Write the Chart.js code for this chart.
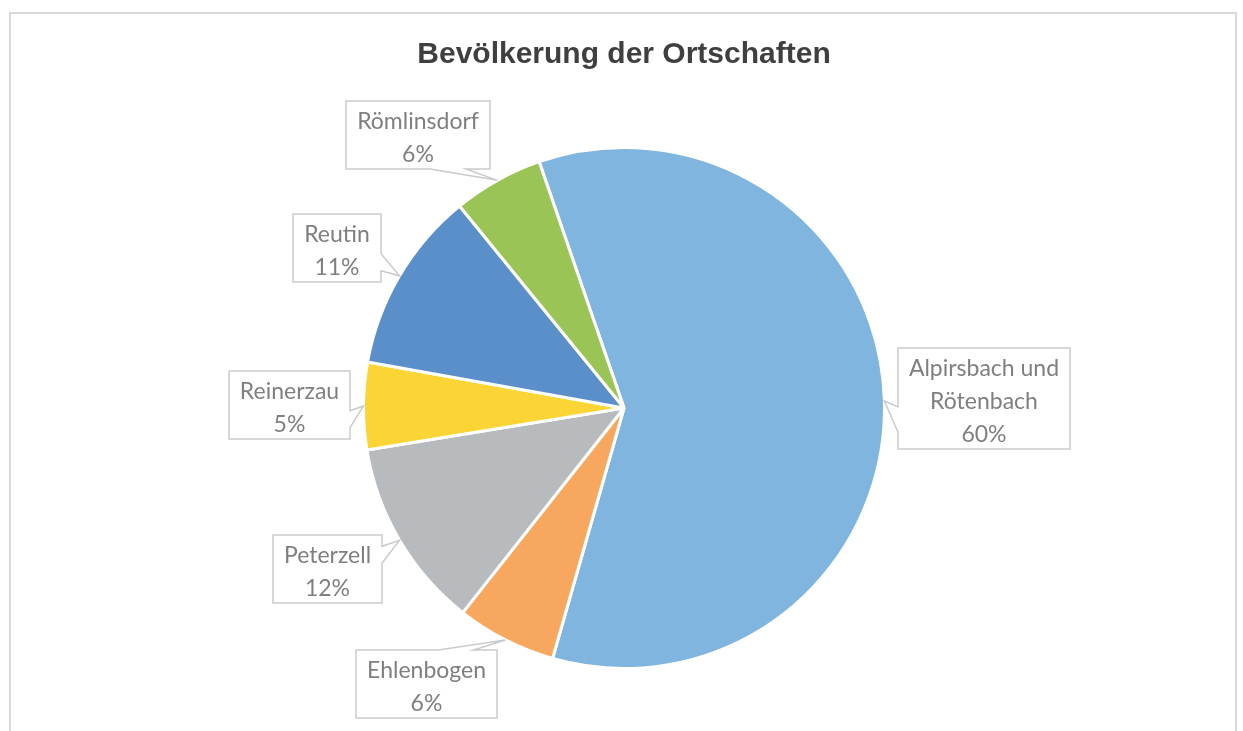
<!DOCTYPE html>
<html lang="de">
<head>
<meta charset="utf-8">
<title>Bevölkerung der Ortschaften</title>
<script src="https://cdn.jsdelivr.net/npm/chart.js@4/dist/chart.umd.min.js"></script>
<style>
  html, body { margin: 0; padding: 0; background: #fff; }
  #wrap { position: relative; width: 1243px; height: 731px; }
</style>
</head>
<body>
<div id="wrap"><canvas id="bevoelkerungChart"></canvas></div>
<script>
// Ortschaften and their share of the population (in %)
var ortschaften = ['Alpirsbach und Rötenbach', 'Ehlenbogen', 'Peterzell', 'Reinerzau', 'Reutin', 'Römlinsdorf'];
var einwohnerAnteil = [59.7, 6.2, 11.8, 5.4, 11.3, 5.6];

var sliceColors = ['#80B5DF', '#F8A85E', '#B8BBBE', '#FBD535', '#5B8FCA', '#9BC456'];
// small angle nudges (degrees) so the callouts sit roughly where Excel put them
var labelNudge = [0, 8.4, 2, 0, -1.3, -8];

// Word wrap a label so it fits into maxWidth
function wrapText(ctx, text, maxWidth) {
    var words = text.split(' ');
    var lines = [];
    var line = '';
    words.forEach(function (word) {
        var test = line ? line + ' ' + word : word;
        if (line && ctx.measureText(test).width > maxWidth) {
            lines.push(line);
            line = word;
        } else {
            line = test;
        }
    });
    if (line) lines.push(line);
    return lines;
}

// Rectangle callout with a wedge pointing at (tx, ty), same rules as Excel's wedgeRectCallout
function drawCallout(ctx, l, t, w, h, tx, ty) {
    var r = l + w, b = t + h, hc = l + w / 2, vc = t + h / 2;
    var dxPos = tx - hc, dyPos = ty - vc;
    var dz = Math.abs(dyPos) - Math.abs(dxPos * h / w);
    var x1 = l + w * (dxPos > 0 ? 7 : 2) / 12, x2 = l + w * (dxPos > 0 ? 10 : 5) / 12;
    var y1 = t + h * (dyPos > 0 ? 7 : 2) / 12, y2 = t + h * (dyPos > 0 ? 10 : 5) / 12;

    ctx.beginPath();
    ctx.moveTo(l, t);
    if (dz > 0 && dyPos < 0) { ctx.lineTo(x1, t); ctx.lineTo(tx, ty); ctx.lineTo(x2, t); }
    ctx.lineTo(r, t);
    if (dz <= 0 && dxPos > 0) { ctx.lineTo(r, y1); ctx.lineTo(tx, ty); ctx.lineTo(r, y2); }
    ctx.lineTo(r, b);
    if (dz > 0 && dyPos > 0) { ctx.lineTo(x2, b); ctx.lineTo(tx, ty); ctx.lineTo(x1, b); }
    ctx.lineTo(l, b);
    if (dz <= 0 && dxPos < 0) { ctx.lineTo(l, y2); ctx.lineTo(tx, ty); ctx.lineTo(l, y1); }
    ctx.closePath();
    ctx.fillStyle = '#fff';
    ctx.fill();
    ctx.lineWidth = 1.5;
    ctx.strokeStyle = '#C9CACA';
    ctx.stroke();
}

// Gray frame around the whole chart
var framePlugin = {
    id: 'frame',
    beforeDraw: function (chart) {
        var ctx = chart.ctx;
        ctx.save();
        ctx.fillStyle = '#fff';
        ctx.fillRect(0, 0, chart.width, chart.height);
        ctx.lineWidth = 2;
        ctx.strokeStyle = '#D9D9D9';
        ctx.strokeRect(10, 13, 1226, 740);
        ctx.restore();
    }
};

// Data labels in callout boxes (name + percent)
var calloutPlugin = {
    id: 'callouts',
    afterDatasetsDraw: function (chart) {
        var ctx = chart.ctx;
        var meta = chart.getDatasetMeta(0);
        var data = chart.data.datasets[0].data;
        var total = data.reduce(function (a, b) { return a + b; }, 0);
        var lineH = 33;

        ctx.save();
        ctx.font = '23px Lato';
        meta.data.forEach(function (arc, i) {
            var p = arc.getProps(['x', 'y', 'startAngle', 'endAngle', 'outerRadius'], true);
            var mid = (p.startAngle + p.endAngle) / 2;
            var tipX = p.x + Math.cos(mid) * p.outerRadius;
            var tipY = p.y + Math.sin(mid) * p.outerRadius;

            var lines = wrapText(ctx, chart.data.labels[i], 160);
            lines.push(Math.round(data[i] / total * 100) + '%');
            var textW = Math.max.apply(null, lines.map(function (s) { return ctx.measureText(s).width; }));
            var w = Math.round(textW + 22), h = lines.length * lineH + 2;

            var ang = mid + labelNudge[i] * Math.PI / 180;
            var ux = Math.cos(ang), uy = Math.sin(ang);
            var minDist = p.outerRadius + 13;
            var d = p.outerRadius, cx, cy;
            // push the box outwards until it clears the pie
            while (d < 1000) {
                cx = p.x + ux * d;
                cy = p.y + uy * d;
                var nx = Math.max(cx - w / 2, Math.min(p.x, cx + w / 2));
                var ny = Math.max(cy - h / 2, Math.min(p.y, cy + h / 2));
                if (Math.hypot(nx - p.x, ny - p.y) >= minDist) break;
                d += 0.5;
            }
            var left = Math.round(cx - w / 2), top = Math.round(cy - h / 2);
            drawCallout(ctx, left, top, w, h, tipX, tipY);

            ctx.fillStyle = '#7F7F7F';
            ctx.textAlign = 'center';
            ctx.textBaseline = 'alphabetic';
            lines.forEach(function (s, k) {
                ctx.fillText(s, left + w / 2, top + 28 + k * lineH);
            });
        });
        ctx.restore();
    }
};

var ctx = document.getElementById('bevoelkerungChart').getContext('2d');

var bevoelkerungChart = new Chart(ctx, {
    type: 'pie',
    data: {
        labels: ortschaften,
        datasets: [{
            data: einwohnerAnteil,
            backgroundColor: sliceColors,
            borderColor: '#fff',
            borderWidth: 3
        }]
    },
    options: {
        responsive: true,
        maintainAspectRatio: false,
        animation: false,
        rotation: -19,  // first slice starts a bit left of 12 o'clock
        layout: { padding: { left: 5, right: 0, top: 0, bottom: 61 } },
        plugins: {
            legend: { display: false },
            tooltip: { enabled: false },
            title: {
                display: true,
                text: 'Bevölkerung der Ortschaften',
                color: '#3F3F3F',
                font: { family: "'Liberation Sans', Arial, sans-serif", size: 30, weight: 'bold' },
                padding: { top: 37, bottom: 73 }
            }
        }
    },
    plugins: [framePlugin, calloutPlugin]
});
</script>
</body>
</html>
